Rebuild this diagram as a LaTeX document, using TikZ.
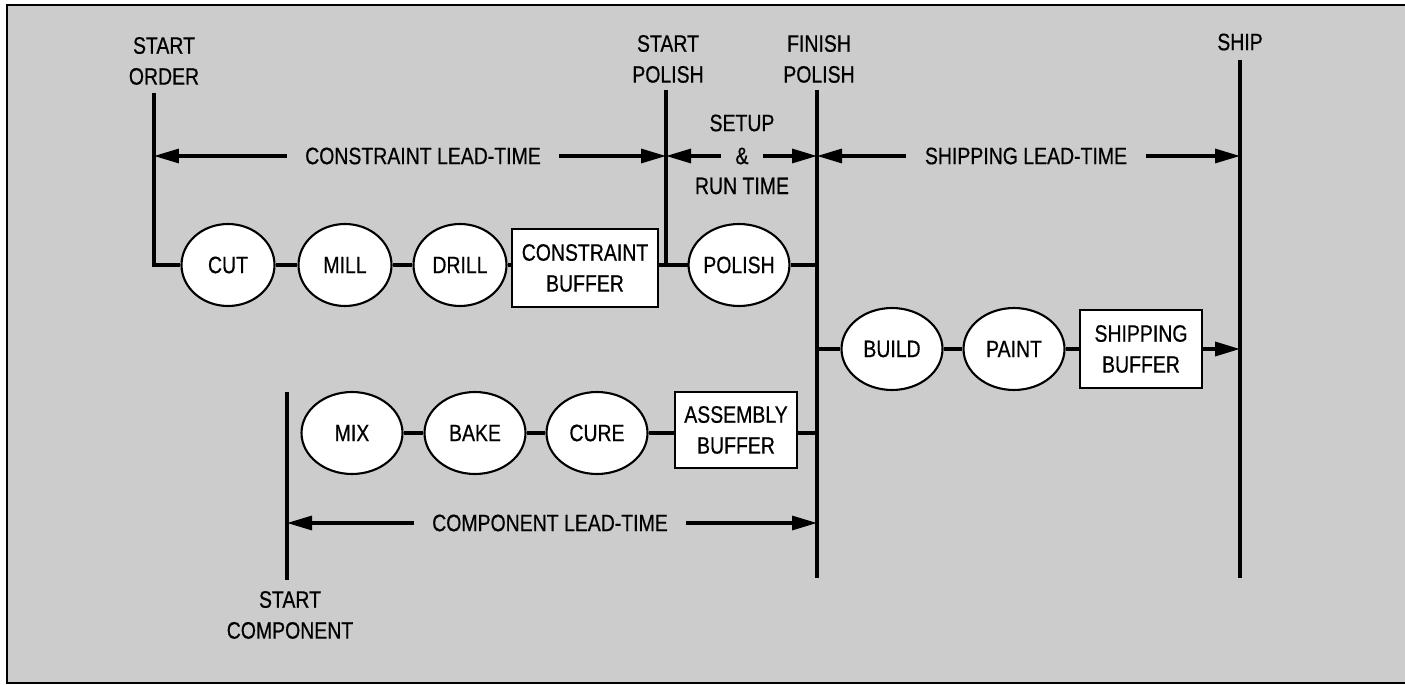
\documentclass[tikz,border=0pt]{standalone}
\usepackage{fontspec}
\setmainfont{Liberation Sans}[FakeStretch=0.82, FakeBold=0.6]
\usetikzlibrary{arrows.meta, positioning, shapes.geometric}
\definecolor{cpaper}{gray}{0.8}
\tikzset{
  every picture/.style={font=\fontsize{13.5}{17.6}\selectfont, line width=1.8pt},
  proc/.style={ellipse, draw, fill=white, line width=1.2pt, inner sep=0pt, minimum width=#1, minimum height=1.64cm},
  proc/.default=2.02cm,
  buf/.style={draw, fill=white, line width=1.2pt, align=center, inner sep=0pt, minimum width=#1, minimum height=1.56cm},
  buf/.default=2.44cm,
  lbl/.style={align=center, inner sep=0pt},
  lead/.style={inner xsep=0.34cm, inner ysep=0pt},
  link/.style={line width=2pt},
  leadarrow/.style={-{Triangle[length=0.5cm, width=0.28cm]}, line width=1.8pt},
}

\begin{document}
\begin{tikzpicture}[x=0.02cm, y=-0.02cm]
  \useasboundingbox (0,0) rectangle (1405,685);
  \fill[cpaper] (7,5) rectangle (1405,683);
  \draw[line width=1.6pt] (1405,5) -- (7,5) -- (7,683) -- (1405,683);

  \node[lbl] (sorder) at (164,61) {START\\ORDER};
  \node[lbl] (spolish) at (668,59) {START\\POLISH};
  \node[lbl] (fpolish) at (819,59) {FINISH\\POLISH};
  \node[lbl] (ship) at (1240,42) {SHIP};
  \node[lbl] (scomp) at (290,615) {START\\COMPONENT};

  \coordinate (so-top) at (154,93);
  \coordinate (sp-top) at (666,90);
  \coordinate (fp-top) at (817,90);
  \coordinate (fp-bot) at (817,578);
  \coordinate (sh-top) at (1240,60);
  \coordinate (sh-bot) at (1240,578);
  \coordinate (sc-top) at (287,392);
  \coordinate (sc-bot) at (287,580);

  \node[proc=1.86cm] (cut) at (228,265) {CUT};
  \node[proc=1.86cm] (mill) at (345,265) {MILL};
  \node[proc=1.86cm] (drill) at (460,265) {DRILL};
  \node[buf=2.92cm] (cbuf) at (585,268) {CONSTRAINT\\BUFFER};
  \node[proc=1.84cm] (polish) at (739,265) {POLISH};

  \node[proc] (build) at (892,349) {BUILD};
  \node[proc] (paint) at (1014,349) {PAINT};
  \node[buf] (sbuf) at (1141,349) {SHIPPING\\BUFFER};

  \node[proc] (mix) at (352,433) {MIX};
  \node[proc] (bake) at (475,433) {BAKE};
  \node[proc] (cure) at (597,433) {CURE};
  \node[buf, minimum height=1.52cm] (abuf) at (736,430) {ASSEMBLY\\BUFFER};

  \draw (so-top) |- (cut.west);
  \draw (sp-top) -- (sp-top |- polish.west);
  \draw (fp-top) -- (fp-bot);
  \draw (sh-top) -- (sh-bot);
  \draw (sc-top) -- (sc-bot);

  \draw[link] (cut) -- (mill);
  \draw[link] (mill) -- (drill);
  \draw[link] (drill.east) -- (drill.east -| cbuf.west);
  \draw[link] (polish.west -| cbuf.east) -- (polish.west);
  \draw[link] (polish.east) -- (polish.east -| fp-top);

  \draw[link] (build.west -| fp-top) -- (build.west);
  \draw[link] (build) -- (paint);
  \draw[link] (paint.east) -- (paint.east -| sbuf.west);
  \draw[link, -{Triangle[length=0.5cm, width=0.28cm]}] (sbuf.east) -- (sbuf.east -| sh-top);

  \draw[link] (mix) -- (bake);
  \draw[link] (bake) -- (cure);
  \draw[link] (cure.east) -- (cure.east -| abuf.west);
  \draw[link] (cure.east -| abuf.east) -- (cure.east -| fp-top);

  \node[lead] (clt) at (423,156) {CONSTRAINT LEAD-TIME};
  \draw[leadarrow] (clt.west) -- (clt.west -| so-top);
  \draw[leadarrow] (clt.east) -- (clt.east -| sp-top);

  \node[lead, inner xsep=0.26cm] (amp) at (742,156) {\&};
  \node[lbl] (setup) at (742,123) {SETUP};
  \node[lbl] (runtime) at (742,186) {RUN TIME};
  \draw[leadarrow] (amp.west) -- (amp.west -| sp-top);
  \draw[leadarrow] (amp.east) -- (amp.east -| fp-top);

  \node[lead] (slt) at (1026,156) {SHIPPING LEAD-TIME};
  \draw[leadarrow] (slt.west) -- (slt.west -| fp-top);
  \draw[leadarrow] (slt.east) -- (slt.east -| sh-top);

  \node[lead] (cmlt) at (550,523) {COMPONENT LEAD-TIME};
  \draw[leadarrow] (cmlt.west) -- (cmlt.west -| sc-top);
  \draw[leadarrow] (cmlt.east) -- (cmlt.east -| fp-top);
\end{tikzpicture}
\end{document}
